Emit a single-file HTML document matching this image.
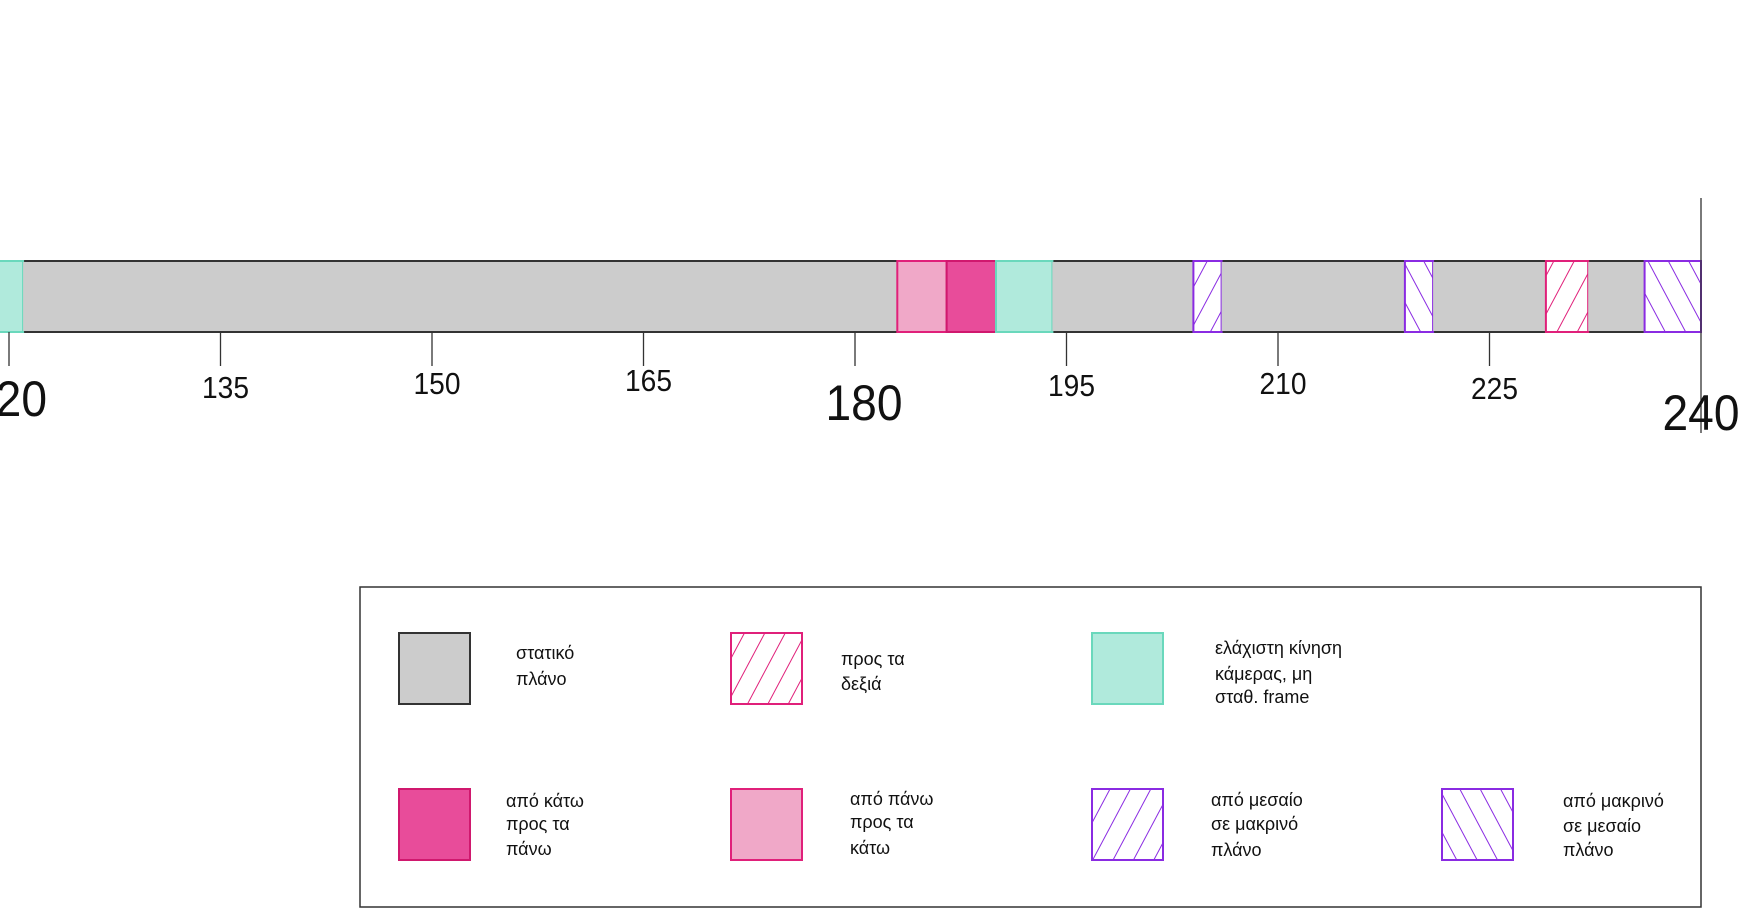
<!DOCTYPE html>
<html><head><meta charset="utf-8"><style>
html,body{margin:0;padding:0;background:#fff;width:1763px;height:921px;overflow:hidden}
svg{display:block;font-family:"Liberation Sans",sans-serif}
</style></head><body>
<svg id="c" width="1763" height="921" viewBox="0 0 1763 921">
<defs>
<pattern id="hp-pink-f" patternUnits="userSpaceOnUse" width="18" height="18" patternTransform="rotate(28)"><rect width="18" height="18" fill="#fff"/><line x1="0" y1="0" x2="0" y2="18" stroke="#e0207a" stroke-width="2"/></pattern>
<pattern id="hp-purple-f" patternUnits="userSpaceOnUse" width="18" height="18" patternTransform="rotate(28)"><rect width="18" height="18" fill="#fff"/><line x1="0" y1="0" x2="0" y2="18" stroke="#8a2be2" stroke-width="2"/></pattern>
<pattern id="hp-purple-b" patternUnits="userSpaceOnUse" width="18" height="18" patternTransform="rotate(-28)"><rect width="18" height="18" fill="#fff"/><line x1="0" y1="0" x2="0" y2="18" stroke="#8a2be2" stroke-width="2"/></pattern>
</defs>
<g id="bars"></g>
<g id="axis"></g>
<g id="legend">
<rect x="360" y="587" width="1341" height="320" fill="#fff" stroke="#333" stroke-width="1.5"/>
</g>
</svg>
<script>
const segStarts=[118,121,183,186.5,190,194,204,206,219,221,229,232,236];
const segEnds=[121,183,186.5,190,194,204,206,219,221,229,232,236,240];
const segTypes=["cyan","gray","lpink","dpink","cyan","gray","pslash","gray","pback","gray","pkslash","gray","pback"];
const tickValues=[120,135,150,165,180,195,210,225,240];
const tickLabels=["120","135","150","165","180","195","210","225","240"];
const styles={
 gray:{fill:"#cccccc",stroke:"#333"},
 cyan:{fill:"#b0eadc",stroke:"#6ad8bc"},
 lpink:{fill:"#f0a8c8",stroke:"#e0207a"},
 dpink:{fill:"#e84c9a",stroke:"#d0186e"},
 pkslash:{fill:"url(#hp-pink-f)",stroke:"#e0207a"},
 pslash:{fill:"url(#hp-purple-f)",stroke:"#8a2be2"},
 pback:{fill:"url(#hp-purple-b)",stroke:"#8a2be2"}
};
const NS="http://www.w3.org/2000/svg";
function xs(v){return 9+(v-120)*(1692/120);}
const bars=document.getElementById('bars');
const y0=261,y1=332;
[y0,y1].forEach(y=>{
 const l=document.createElementNS(NS,'line');
 l.setAttribute('x1',xs(121));l.setAttribute('x2',xs(240));l.setAttribute('y1',y);l.setAttribute('y2',y);
 l.setAttribute('stroke','#333');l.setAttribute('stroke-width',2);
 
 
 bars.appendChild(l);
});
segStarts.forEach((s,i)=>{
 const r=document.createElementNS(NS,'rect');
 const a=xs(s),b=xs(segEnds[i]);
 const g=segTypes[i]==='gray';
 r.setAttribute('x',a);r.setAttribute('y',g?y0+1:y0);r.setAttribute('width',b-a);r.setAttribute('height',g?y1-y0-2:y1-y0);
 const st=styles[segTypes[i]];
 r.setAttribute('fill',st.fill);
 r.setAttribute('stroke',st.stroke);r.setAttribute('stroke-width',g?0:2);
 
 
 bars.appendChild(r);
});
const axis=document.getElementById('axis');
const labelY={120:416,135:398,150:394,165:391,180:420,195:396,210:394,225:399,240:430};
tickValues.forEach((v,i)=>{
 const x=xs(v);
 const l=document.createElementNS(NS,'line');
 l.setAttribute('x1',x);l.setAttribute('x2',x);
 l.setAttribute('y1',v===240?198:y1);l.setAttribute('y2',v===240?433:366);
 l.setAttribute('stroke','#333');l.setAttribute('stroke-width',1.3);
 
 
 axis.appendChild(l);
 const t=document.createElementNS(NS,'text');
 const big=(v===120||v===180||v===240);
 if(v===120){t.setAttribute('x',47);t.setAttribute('text-anchor','end');}
 else{t.setAttribute('x',v===180?x+9:(v===240?x:x+5));t.setAttribute('text-anchor','middle');}
 t.setAttribute('y',labelY[v]);
 t.setAttribute('font-size',big?50:31);
 t.setAttribute('textLength',big?77:47);
 t.setAttribute('lengthAdjust','spacingAndGlyphs');
 t.setAttribute('fill','#111');
 t.textContent=tickLabels[i];
 
 
 axis.appendChild(t);
});
const legend=document.getElementById('legend');
const legItems=[
 {x:399,y:633,t:"gray",tx:516,ty:[653,679],lines:["στατικό","πλάνο"]},
 {x:731,y:633,t:"pkslash",tx:841,ty:[659,684],lines:["προς τα","δεξιά"]},
 {x:1092,y:633,t:"cyan",tx:1215,ty:[648,674,697],lines:["ελάχιστη κίνηση","κάμερας, μη","σταθ. frame"]},
 {x:399,y:789,t:"dpink",tx:506,ty:[801,824,849],lines:["από κάτω","προς τα","πάνω"]},
 {x:731,y:789,t:"lpink",tx:850,ty:[799,822,848],lines:["από πάνω","προς τα","κάτω"]},
 {x:1092,y:789,t:"pslash",tx:1211,ty:[800,824,850],lines:["από μεσαίο","σε μακρινό","πλάνο"]},
 {x:1442,y:789,t:"pback",tx:1563,ty:[801,826,850],lines:["από μακρινό","σε μεσαίο","πλάνο"]}
];
legItems.forEach(it=>{
 const r=document.createElementNS(NS,'rect');
 r.setAttribute('x',it.x);r.setAttribute('y',it.y);r.setAttribute('width',71);r.setAttribute('height',71);
 const st=styles[it.t];
 r.setAttribute('fill',st.fill);r.setAttribute('stroke',st.stroke);r.setAttribute('stroke-width',2);
 
 
 legend.appendChild(r);
 it.lines.forEach((s,j)=>{
  const t=document.createElementNS(NS,'text');
  t.setAttribute('x',it.tx);t.setAttribute('y',it.ty[j]+6);
  t.setAttribute('font-size',18);t.setAttribute('fill','#111');
  t.textContent=s;
  
  
  legend.appendChild(t);
 });
});
</script>
</body></html>
